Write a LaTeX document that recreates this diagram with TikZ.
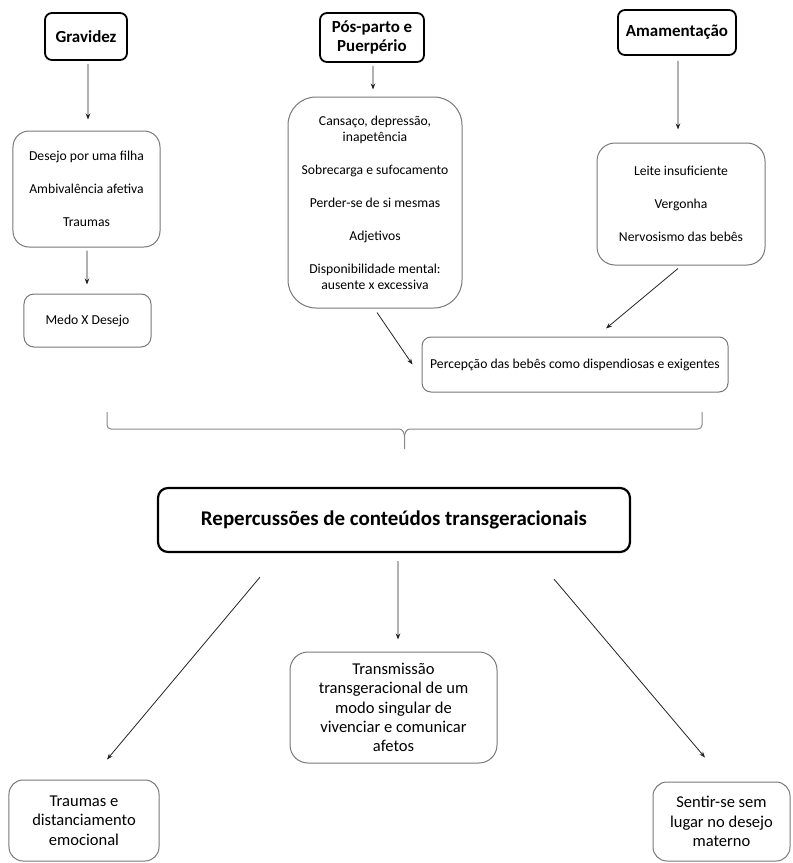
\documentclass[tikz,border=0pt]{standalone}
\usepackage{fontspec}
\setmainfont{Carlito}
\usetikzlibrary{arrows.meta}
\definecolor{boxgray}{RGB}{120,120,120}
\definecolor{arrowgray}{RGB}{35,35,35}
\definecolor{bracegray}{RGB}{135,135,135}
\begin{document}
\begin{tikzpicture}[x=1bp,y=-1bp,
  listbox/.style={draw=boxgray, line width=1bp, rounded corners=#1, align=center, inner sep=0pt, font=\fontsize{13.7}{16}\selectfont},
  head/.style={draw=black, line width=1.8bp, rounded corners=7bp, align=center, inner sep=0pt, font=\fontsize{17}{18.5}\selectfont\bfseries},
  bigbox/.style={draw=boxgray, line width=1bp, rounded corners=#1, align=center, inner sep=0pt, font=\fontsize{16.6}{19.5}\selectfont},
  mainbox/.style={draw=black, line width=2.2bp, rounded corners=10bp, inner sep=0pt, font=\fontsize{21}{24}\selectfont\bfseries},
  arr/.style={-{Stealth[length=6bp,width=4.5bp]}, line width=0.8bp, draw=arrowgray},
  bracestyle/.style={draw=bracegray, line width=1bp},
]
\useasboundingbox (0,0) rectangle (793,863);

% header boxes
\node[head, minimum width=82bp, minimum height=47bp] (grav) at (86,36.5) {Gravidez};
\node[head, minimum width=104bp, minimum height=49bp] (pos) at (372,37.5) {Pós-parto e\\Puerpério};
\node[head, minimum width=118bp, minimum height=45bp] (amam) at (677,32.5) {Amamentação};

% list boxes
\node[listbox=16bp, minimum width=147bp, minimum height=116bp] (des) at (86.5,189) {Desejo por uma filha\\[17bp]Ambivalência afetiva\\[17bp]Traumas};
\node[listbox=10bp, minimum width=127bp, minimum height=53bp] (medo) at (87.5,320.5) {Medo X Desejo};
\node[listbox=28bp, minimum width=174bp, minimum height=211bp] (mid) at (375,202.5) {Cansaço, depressão,\\inapetência\\[17bp]Sobrecarga e sufocamento\\[17bp]Perder-se de si mesmas\\[17bp]Adjetivos\\[17bp]Disponibilidade mental:\\ausente x excessiva};
\node[listbox=18bp, minimum width=168bp, minimum height=122bp] (leite) at (681,204) {Leite insuficiente\\[17bp]Vergonha\\[17bp]Nervosismo das bebês};
\node[listbox=9bp, minimum width=306bp, minimum height=55bp] (perc) at (575,364.5) {Percepção das bebês como dispendiosas e exigentes};

% main box
\node[mainbox, minimum width=472bp, minimum height=64bp] (rep) at (394,520) {Repercussões de conteúdos transgeracionais};

% lower boxes
\node[bigbox=18bp, minimum width=207bp, minimum height=111bp] (trans) at (393.5,707.5) {Transmissão\\transgeracional de um\\modo singular de\\vivenciar e comunicar\\afetos};
\node[bigbox=14bp, minimum width=150bp, minimum height=81bp] (trau) at (84,820.5) {Traumas e\\distanciamento\\emocional};
\node[bigbox=14bp, minimum width=137bp, minimum height=79bp] (sent) at (721.5,821.5) {Sentir-se sem\\lugar no desejo\\materno};

% arrows
\draw[arr] ([xshift=2bp,yshift=-3bp]grav.south) -- ([xshift=1.5bp,yshift=11bp]des.north);
\draw[arr] ([xshift=0.5bp,yshift=-3bp]des.south) -- ([xshift=-0.5bp,yshift=9bp]medo.north);
\draw[arr] ([xshift=1bp,yshift=-3bp]pos.south) -- ([xshift=-2bp,yshift=7bp]mid.north);
\draw[arr] ([xshift=1bp,yshift=-5bp]amam.south) -- ([xshift=-3bp,yshift=13bp]leite.north);
\draw[arr] ([xshift=2bp,yshift=-4bp]mid.south) -- ([xshift=-9bp]perc.west);
\draw[arr] ([xshift=-3bp,yshift=-3bp]leite.south) -- ([xshift=31bp,yshift=8bp]perc.north);
\draw[arr] ([xshift=4bp,yshift=-8bp]rep.south) -- ([xshift=4.5bp,yshift=12bp]trans.north);
\draw[arr] ([xshift=-134bp,yshift=-24bp]rep.south) -- ([xshift=23bp,yshift=20bp]trau.north);
\draw[arr] ([xshift=160bp,yshift=-26bp]rep.south) -- ([xshift=-16.5bp,yshift=24bp]sent.north);

% brace
\draw[bracestyle] (107,412) -- (107,425) to[out=-90,in=180] (111,429) -- (399,429) to[out=0,in=90] (404.5,437) -- (404.5,449);
\draw[bracestyle] (702,412) -- (702,425) to[out=-90,in=0] (698,429) -- (410,429) to[out=180,in=90] (404.5,437);
\end{tikzpicture}
\end{document}
